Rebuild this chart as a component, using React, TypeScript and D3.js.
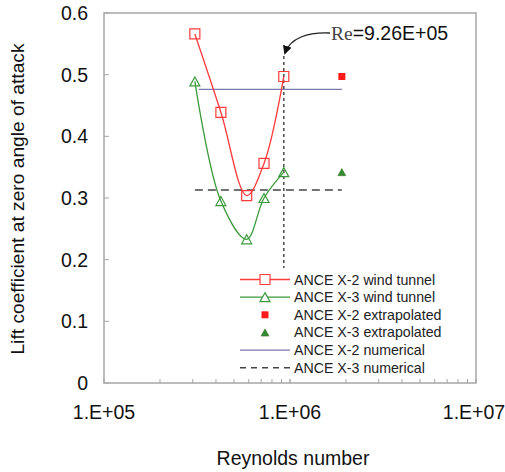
import React from "react";
import * as d3 from "d3";

// Reynolds numbers of the wind-tunnel runs
const reTunnel = [3.08e5, 4.25e5, 5.85e5, 7.25e5, 9.26e5];
// Lift coefficient at zero angle of attack
const clX2Tunnel = [0.566, 0.439, 0.304, 0.356, 0.497];
const clX3Tunnel = [0.489, 0.295, 0.233, 0.3, 0.342];
// Extrapolated values
const reExtrap = [1.9e6];
const clX2Extrap = [0.497];
const clX3Extrap = [0.342];
// Numerical results (constant over Re range)
const reNumX2 = [3.24e5, 1.9e6];
const clNumX2 = 0.476;
const reNumX3 = [3.08e5, 1.9e6];
const clNumX3 = 0.313;
// Critical Reynolds number marked on the chart
const reCritical = 9.26e5;

const xTickValues = [1e5, 1e6, 1e7];
const xTickLabels = ["1.E+05", "1.E+06", "1.E+07"];
const yTickValues = [0, 0.1, 0.2, 0.3, 0.4, 0.5, 0.6];
const yTickLabels = ["0", "0.1", "0.2", "0.3", "0.4", "0.5", "0.6"];

const legendLabels = [
  "ANCE X-2 wind tunnel",
  "ANCE X-3 wind tunnel",
  "ANCE X-2 extrapolated",
  "ANCE X-3 extrapolated",
  "ANCE X-2 numerical",
  "ANCE X-3 numerical",
];

const RED = "#ff3a3a";
const GREEN = "#3b9a3b";
const BLUE = "#7a7ab0";
const FONT = "Liberation Sans, Arial, sans-serif";

export default function App() {
  const W = 505;
  const H = 472;
  const left = 104;
  const right = 476;
  const top = 13;
  const bottom = 383;

  const x = d3.scaleLog().domain([1e5, 1e7]).range([left, right]);
  const y = d3.scaleLinear().domain([0, 0.6]).range([bottom, top]);

  const smooth = d3
    .line<[number, number]>()
    .x((d) => x(d[0]))
    .y((d) => y(d[1]))
    .curve(d3.curveCatmullRom.alpha(0.5));

  const x2Pts: [number, number][] = reTunnel.map((r, i) => [r, clX2Tunnel[i]]);
  const x3Pts: [number, number][] = reTunnel.map((r, i) => [r, clX3Tunnel[i]]);

  // minor ticks on the log axis
  const minorTicks: number[] = [];
  for (let dec = 1e5; dec < 1e7; dec *= 10) {
    for (let k = 1; k <= 10; k++) minorTicks.push(dec * k);
  }

  const square = (cx: number, cy: number, s: number) =>
    `M${cx - s / 2},${cy - s / 2}h${s}v${s}h${-s}Z`;
  const triangle = (cx: number, cy: number, s: number) => {
    const h = s * 0.9;
    return `M${cx},${cy - h / 2}L${cx + s / 2},${cy + h / 2}L${cx - s / 2},${cy + h / 2}Z`;
  };

  const legX0 = 240;
  const legX1 = 290;
  const legMid = (legX0 + legX1) / 2;
  const legY0 = 279.5;
  const legDy = 17.65;

  const xc = x(reCritical);
  // keep the last tick label inside the drawing
  const xLabelHalf = 30;

  return (
    <svg
      width={W}
      height={H}
      style={{ position: "absolute", left: 0, top: 0, background: "#fff" }}
      fontFamily={FONT}
    >
      <defs>
        <marker
          id="arrowHead"
          viewBox="0 0 10 10"
          refX="8"
          refY="5"
          markerWidth="9"
          markerHeight="9"
          orient="auto"
          markerUnits="userSpaceOnUse"
        >
          <path d="M0,0L10,5L0,10Z" fill="#111" />
        </marker>
      </defs>

      {/* plot frame */}
      <rect
        x={left}
        y={top}
        width={right - left}
        height={bottom - top}
        fill="none"
        stroke="#a6a6a6"
        strokeWidth={1.5}
      />

      {/* x ticks */}
      {minorTicks.map((t, i) => (
        <line
          key={"mx" + i}
          x1={x(t)}
          x2={x(t)}
          y1={bottom}
          y2={bottom - 4}
          stroke="#a6a6a6"
          strokeWidth={1}
        />
      ))}
      {/* y ticks */}
      {yTickValues.map((v, i) => (
        <line
          key={"yt" + i}
          x1={left}
          x2={left + 5}
          y1={y(v)}
          y2={y(v)}
          stroke="#a6a6a6"
          strokeWidth={1}
        />
      ))}

      {/* tick labels */}
      {yTickValues.map((v, i) => (
        <text
          key={"yl" + i}
          x={88}
          y={y(v) + 7}
          textAnchor="end"
          fontSize={19.5}
          fill="#111"
        >
          {yTickLabels[i]}
        </text>
      ))}
      {xTickValues.map((v, i) => (
        <text
          key={"xl" + i}
          x={Math.min(x(v), W - 1 - xLabelHalf)}
          y={419}
          textAnchor="middle"
          fontSize={19.5}
          fill="#111"
        >
          {xTickLabels[i]}
        </text>
      ))}

      {/* axis titles */}
      <text x={293} y={465} textAnchor="middle" fontSize={19.5} fill="#111">
        Reynolds number
      </text>
      <text
        transform={`translate(24,199) rotate(-90)`}
        textAnchor="middle"
        fontSize={19.2}
        fill="#111"
      >
        Lift coefficient at zero angle of attack
      </text>

      {/* numerical results */}
      <line
        x1={x(reNumX2[0])}
        x2={x(reNumX2[1])}
        y1={y(clNumX2)}
        y2={y(clNumX2)}
        stroke={BLUE}
        strokeWidth={1.3}
      />
      <line
        x1={x(reNumX3[0])}
        x2={x(reNumX3[1])}
        y1={y(clNumX3)}
        y2={y(clNumX3)}
        stroke="#444"
        strokeWidth={1.5}
        strokeDasharray="8,5"
      />

      {/* critical Re marker */}
      <line
        x1={xc}
        x2={xc}
        y1={56}
        y2={268}
        stroke="#555"
        strokeWidth={1.6}
        strokeDasharray="3,3"
      />
      <path
        d={`M330,33 C308,32 290,38 285,53`}
        fill="none"
        stroke="#222"
        strokeWidth={1.3}
        markerEnd="url(#arrowHead)"
      />
      <text x={331} y={40} fontSize={19.5} fill="#111">
        <tspan fontFamily="Liberation Serif, Times New Roman, serif" fill="#444">
          Re
        </tspan>
        <tspan>=9.26E+05</tspan>
      </text>

      {/* wind tunnel curves */}
      <path d={smooth(x2Pts) ?? ""} fill="none" stroke={RED} strokeWidth={1.3} />
      <path d={smooth(x3Pts) ?? ""} fill="none" stroke={GREEN} strokeWidth={1.3} />
      {x2Pts.map((p, i) => (
        <path
          key={"sq" + i}
          d={square(x(p[0]), y(p[1]), 10)}
          fill="none"
          stroke={RED}
          strokeWidth={1.2}
        />
      ))}
      {x3Pts.map((p, i) => (
        <path
          key={"tr" + i}
          d={triangle(x(p[0]), y(p[1]), 10)}
          fill="none"
          stroke={GREEN}
          strokeWidth={1.2}
        />
      ))}

      {/* extrapolated values */}
      {reExtrap.map((r, i) => (
        <path
          key={"ex2" + i}
          d={square(x(r), y(clX2Extrap[i]), 7)}
          fill="#ff1a1a"
        />
      ))}
      {reExtrap.map((r, i) => (
        <path
          key={"ex3" + i}
          d={triangle(x(r), y(clX3Extrap[i]), 8)}
          fill="#2e8b2e"
          stroke="#4a7a2a"
          strokeWidth={0.6}
        />
      ))}

      {/* legend */}
      {legendLabels.map((lab, i) => {
        const ly = legY0 + i * legDy;
        let sample: React.ReactNode = null;
        if (i === 0)
          sample = (
            <g>
              <line x1={legX0} x2={legX1} y1={ly} y2={ly} stroke={RED} strokeWidth={1.3} />
              <path d={square(legMid, ly, 10)} fill="#fff" stroke={RED} strokeWidth={1.2} />
            </g>
          );
        else if (i === 1)
          sample = (
            <g>
              <line x1={legX0} x2={legX1} y1={ly} y2={ly} stroke={GREEN} strokeWidth={1.3} />
              <path d={triangle(legMid, ly, 10)} fill="#fff" stroke={GREEN} strokeWidth={1.2} />
            </g>
          );
        else if (i === 2)
          sample = <path d={square(legMid, ly, 7)} fill="#ff1a1a" />;
        else if (i === 3)
          sample = (
            <path
              d={triangle(legMid, ly, 8)}
              fill="#2e8b2e"
              stroke="#4a7a2a"
              strokeWidth={0.6}
            />
          );
        else if (i === 4)
          sample = <line x1={legX0} x2={legX1} y1={ly} y2={ly} stroke={BLUE} strokeWidth={1.3} />;
        else
          sample = (
            <line
              x1={legX0}
              x2={legX1}
              y1={ly}
              y2={ly}
              stroke="#444"
              strokeWidth={1.5}
              strokeDasharray="6,5"
            />
          );
        return (
          <g key={"lg" + i}>
            {sample}
            <text x={294} y={ly + 5} fontSize={14.2} fill="#222">
              {lab}
            </text>
          </g>
        );
      })}
    </svg>
  );
}
